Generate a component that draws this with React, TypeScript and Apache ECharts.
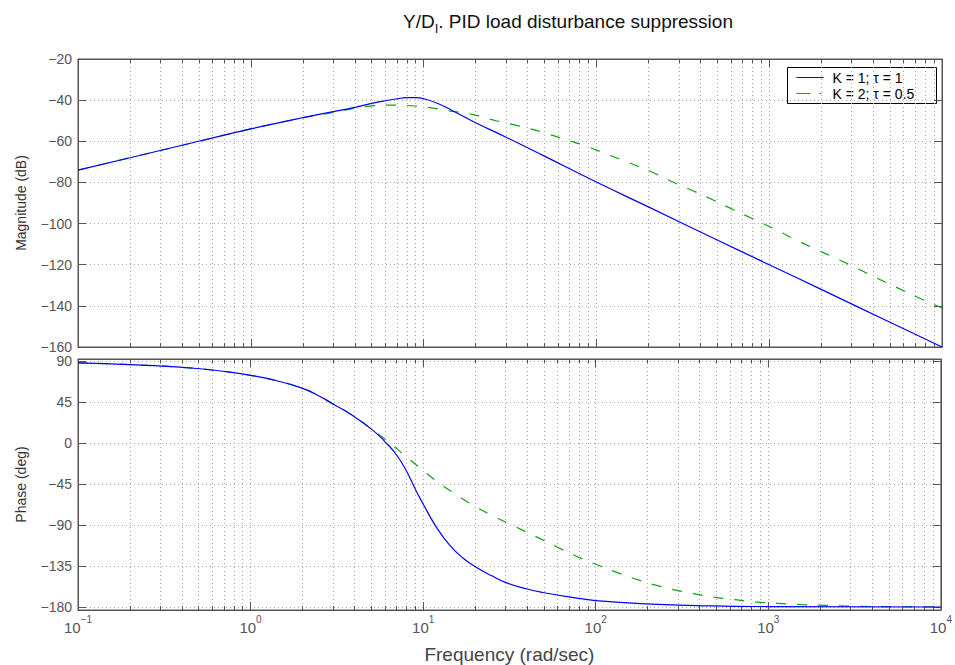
import React, { useEffect, useRef } from 'react';
import * as echarts from 'echarts';

// ---------- data ----------
const magBlueFreq = [0.1, 0.2, 0.5, 1, 2, 3, 4, 5, 6, 7, 8, 9, 10, 12, 15, 20, 30, 50, 100, 200, 500, 1000, 2000, 5000, 10000];
const magBlue = [-74, -68, -60, -54, -48.5, -45.6, -43.5, -41.6, -40.3, -39.4, -38.8, -38.8, -39.3, -41.5, -45.5, -51, -58, -67.2, -79.8, -91.9, -108, -120, -132, -148, -160];

const magGreenFreq = [0.1, 0.2, 0.5, 1, 2, 3, 4, 5, 6.3, 8, 10.5, 14.3, 19.4, 26.3, 35.9, 48.2, 64.6, 87, 116, 154, 205, 269, 356, 471, 617, 809, 1064, 1388, 1811, 2399, 3171, 4150, 5450, 7160, 9480, 10000];
const magGreen = [-74, -68, -60, -54, -48.6, -46, -44, -42.8, -42.4, -42.6, -43.5, -45.3, -47, -50, -52.6, -55.5, -58.9, -62.3, -66.4, -70.4, -74.6, -79.3, -83.8, -88.4, -93.2, -97.8, -102.5, -107.4, -112, -116.7, -121.5, -126.3, -131, -135.7, -140.2, -141];

const phaseBlueFreq = [0.1, 0.2, 0.51, 1, 1.4, 1.93, 2.4, 3, 3.9, 5.1, 6, 7, 8, 9.1, 10, 11.9, 14.2, 17, 20.3, 25, 30.3, 40, 49.3, 80, 100, 195, 475, 1000, 10000];
const phaseBlue = [88.3, 86.3, 81.8, 74.6, 68.9, 61.3, 53.6, 43.2, 30.6, 14.4, 1.9, -12.6, -30.5, -52.1, -66.6, -91.7, -111.5, -126, -136, -145.5, -153, -160, -163.8, -170.3, -172.7, -176.3, -178.5, -179.2, -179.7];

const phaseGreenFreq = [0.1, 0.2, 0.51, 1, 1.4, 1.93, 2.4, 3, 3.9, 5.1, 6.3, 7.77, 9.66, 12.3, 15.5, 20.1, 26.1, 34.3, 45.1, 58.9, 77.2, 100, 136, 182, 243, 329, 449, 610, 838, 1140, 1549, 2133, 2897, 3981, 10000];
const phaseGreen = [88.3, 86.3, 81.8, 74.6, 68.9, 61.3, 53.6, 43.2, 30.6, 14.6, 1.5, -12.9, -27.5, -43.2, -56.1, -69.6, -80.9, -91.7, -102.5, -113.3, -124, -132.8, -142.5, -150.8, -157.6, -163.3, -167.9, -171.3, -174, -175.7, -177.1, -177.9, -178.7, -179.2, -179.6];

const phaseTicks = [-180, -135, -90, -45, 0, 45, 90];
const minorMultipliers = [2, 3, 4, 5, 6, 7, 8, 9];
const decades = [0.1, 1, 10, 100, 1000];

const titleMain = 'Y/D';
const titleSub = 'I';
const titleRest = '. PID load disturbance suppression';
const legendNames = ['K = 1; \u03c4 = 1', 'K = 2; \u03c4 = 0.5'];

// ---------- helpers ----------
const pair = (f: number[], v: number[]) => f.map((x, i) => [x, v[i]]);
const minorLogPositions = decades.flatMap((d) => minorMultipliers.map((m) => Math.log10(d * m)));
const minus = (v: number) => (v < 0 ? '\u2212' + Math.abs(v) : String(v));

const FONT = "'Liberation Sans', Arial, Helvetica, sans-serif";
const AXIS = '#555555';
const LABEL = '#555555';
const GRID = '#a8a8a8';
const BLUE = '#0000ff';
const GREEN = '#14a014';
const DOT: any = [1, 3];

export default function App() {
  const ref = useRef<HTMLDivElement>(null);

  useEffect(() => {
    const chart = echarts.init(ref.current as HTMLDivElement, null, { renderer: 'svg' });

    const grids = [
      { left: 78, top: 59, width: 864, height: 288 },
      { left: 78, top: 359, width: 864, height: 256 },
    ];

    const logAxis = (gridIndex: number, position: string, withLabels: boolean, split: boolean) => ({
      type: 'log',
      logBase: 10,
      min: 0.1,
      max: 10000,
      gridIndex,
      position,
      axisLine: { show: true, onZero: false, lineStyle: { color: AXIS, width: 1 } },
      axisTick: { show: true, inside: true, length: 8, lineStyle: { color: AXIS } },
      axisLabel: withLabels
        ? {
            show: true,
            margin: 4,
            formatter: (v: number) => `{b|10}{s|${minus(Math.round(Math.log10(v)))}}`,
            rich: {
              b: { fontSize: 15, fontFamily: FONT, color: LABEL, verticalAlign: 'bottom', padding: [6, 0, 0, 0] },
              s: { fontSize: 10, fontFamily: FONT, color: LABEL, verticalAlign: 'top' },
            },
          }
        : { show: false },
      splitLine: { show: split, lineStyle: { color: GRID, type: DOT, width: 1 } },
      ...(withLabels
        ? {
            name: 'Frequency (rad/sec)',
            nameLocation: 'middle',
            nameGap: 35,
            nameTextStyle: { fontSize: 19, fontFamily: FONT, color: '#444' },
          }
        : {}),
    });

    const minorAxis = (gridIndex: number, position: string, split: boolean) => ({
      type: 'value',
      min: -1,
      max: 4,
      gridIndex,
      position,
      axisLine: { show: false, onZero: false },
      axisLabel: { show: false },
      axisTick: { show: true, inside: true, length: 4, customValues: minorLogPositions, lineStyle: { color: AXIS } },
      splitLine: { show: split, lineStyle: { color: GRID, type: DOT, width: 1 } },
    });

    const yBase = (gridIndex: number, position: string, min: number, max: number) => ({
      type: 'value',
      gridIndex,
      min,
      max,
      position,
      axisLine: { show: true, onZero: false, lineStyle: { color: AXIS } },
    });

    const yLabel = (customValues?: number[]) => ({
      fontSize: 14,
      lineHeight: 13,
      fontFamily: FONT,
      color: LABEL,
      margin: 6,
      formatter: (v: number) => minus(v),
      ...(customValues ? { customValues } : {}),
    });

    const lineSeries = (name: string, xi: number, yi: number, data: number[][], color: string, dashed: boolean) => ({
      name,
      type: 'line',
      xAxisIndex: xi,
      yAxisIndex: yi,
      data,
      showSymbol: false,
      smooth: 0.5,
      lineStyle: dashed ? { color, width: 1.2, type: [10, 11] } : { color, width: 1.2 },
      itemStyle: { color },
      z: dashed ? 4 : 5,
    });

    const option: any = {
      animation: false,
      backgroundColor: '#ffffff',
      title: {
        text: `{a|${titleMain}}{sub|${titleSub}}{a|${titleRest}}`,
        left: 398,
        top: 7,
        textStyle: {
          fontWeight: 'normal',
          rich: {
            a: { fontSize: 19, fontFamily: FONT, fontWeight: 'normal', color: '#111', verticalAlign: 'top', lineHeight: 21 },
            sub: { fontSize: 13, fontFamily: FONT, fontWeight: 'normal', color: '#111', verticalAlign: 'bottom', padding: [10, 0, 0, 0] },
          },
        },
      },
      grid: grids.map((g) => ({ ...g, show: true, borderColor: AXIS, borderWidth: 1, backgroundColor: 'transparent', containLabel: false })),
      xAxis: [
        logAxis(0, 'bottom', false, true),
        logAxis(0, 'top', false, false),
        minorAxis(0, 'bottom', true),
        minorAxis(0, 'top', false),
        logAxis(1, 'bottom', true, true),
        logAxis(1, 'top', false, false),
        minorAxis(1, 'bottom', true),
        minorAxis(1, 'top', false),
      ],
      yAxis: [
        {
          ...yBase(0, 'left', -160, -20),
          interval: 20,
          axisTick: { show: true, inside: true, length: 8, lineStyle: { color: AXIS } },
          axisLabel: yLabel(),
          splitLine: { show: true, lineStyle: { color: GRID, type: DOT, width: 1 } },
          name: 'Magnitude (dB)',
          nameLocation: 'middle',
          nameGap: 50,
          nameTextStyle: { fontSize: 14, fontFamily: FONT, color: '#333' },
        },
        {
          ...yBase(0, 'right', -160, -20),
          interval: 20,
          axisTick: { show: true, inside: true, length: 8, lineStyle: { color: AXIS } },
          axisLabel: { show: false },
          splitLine: { show: false },
        },
        {
          ...yBase(1, 'left', -183, 92.5),
          axisTick: { show: true, inside: true, length: 8, customValues: phaseTicks, lineStyle: { color: AXIS } },
          axisLabel: yLabel(phaseTicks),
          splitLine: { show: true, lineStyle: { color: GRID, type: DOT, width: 1 } },
          name: 'Phase (deg)',
          nameLocation: 'middle',
          nameGap: 50,
          nameTextStyle: { fontSize: 14, fontFamily: FONT, color: '#333' },
        },
        {
          ...yBase(1, 'right', -183, 92.5),
          axisTick: { show: true, inside: true, length: 8, customValues: phaseTicks, lineStyle: { color: AXIS } },
          axisLabel: { show: false },
          splitLine: { show: false },
        },
      ],
      series: [
        lineSeries(legendNames[0], 0, 0, pair(magBlueFreq, magBlue), BLUE, false),
        lineSeries(legendNames[1], 0, 0, pair(magGreenFreq, magGreen), GREEN, true),
        lineSeries(legendNames[0], 4, 2, pair(phaseBlueFreq, phaseBlue), BLUE, false),
        lineSeries(legendNames[1], 4, 2, pair(phaseGreenFreq, phaseGreen), GREEN, true),
      ],
      graphic: [
        {
          type: 'group',
          left: 787,
          top: 67,
          children: [
            { type: 'rect', shape: { x: 0, y: 0, width: 149, height: 36 }, style: { fill: '#fff', stroke: '#000', lineWidth: 1 } },
            { type: 'line', shape: { x1: 9, y1: 10, x2: 36, y2: 10 }, style: { stroke: BLUE, lineWidth: 1 } },
            { type: 'line', shape: { x1: 9, y1: 26, x2: 23, y2: 26 }, style: { stroke: GREEN, lineWidth: 1 } },
            { type: 'line', shape: { x1: 32, y1: 26, x2: 34, y2: 26 }, style: { stroke: GREEN, lineWidth: 1 } },
            { type: 'text', x: 45, y: 10, style: { text: legendNames[0], font: `14px ${FONT}`, fill: '#000', verticalAlign: 'middle' } },
            { type: 'text', x: 45, y: 26, style: { text: legendNames[1], font: `14px ${FONT}`, fill: '#000', verticalAlign: 'middle' } },
          ],
        },
      ],
    };

    chart.setOption(option);
    return () => chart.dispose();
  }, []);

  return <div ref={ref} style={{ position: 'fixed', left: 0, top: 0, width: 955, height: 665, background: '#fff' }} />;
}
